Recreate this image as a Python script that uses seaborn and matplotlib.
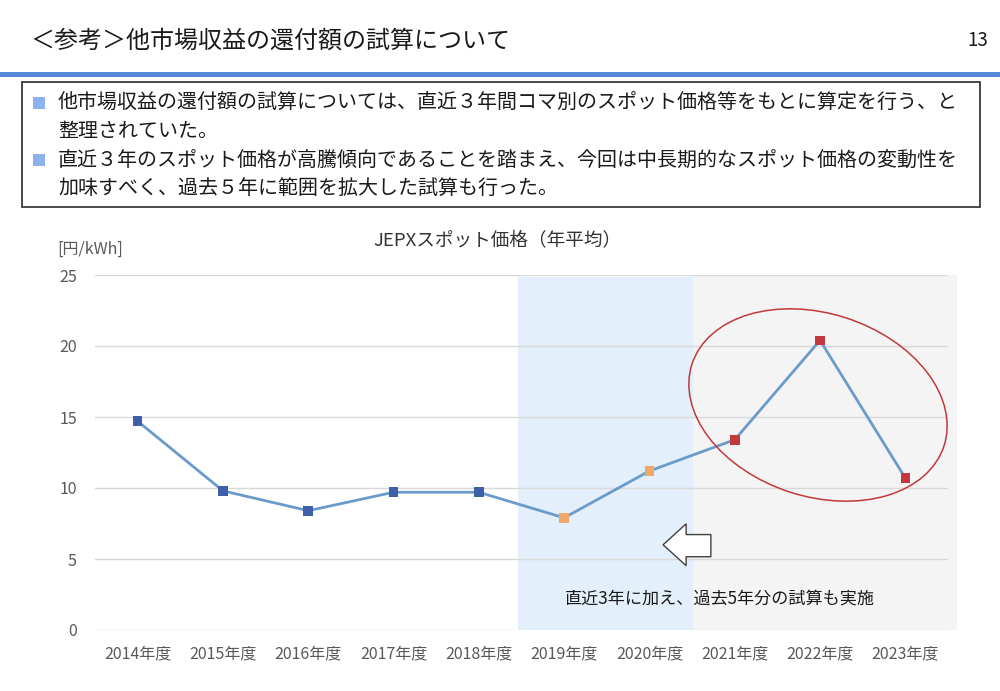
import numpy as np
import pandas as pd
import seaborn as sns
import matplotlib.pyplot as plt
from matplotlib.patches import Ellipse, Polygon, Rectangle

# data
years = ['2014年度', '2015年度', '2016年度', '2017年度', '2018年度',
         '2019年度', '2020年度', '2021年度', '2022年度', '2023年度']
prices = [14.7, 9.8, 8.4, 9.7, 9.7, 7.9, 11.2, 13.4, 20.4, 10.7]
groups = ['old', 'old', 'old', 'old', 'old', 'add', 'add', 'recent', 'recent', 'recent']
yticks = [0, 5, 10, 15, 20, 25]

df = pd.DataFrame({'year': years, 'price': prices, 'group': groups})
df['x'] = np.arange(len(df))

sns.set_theme(style='white')
plt.rcParams['font.family'] = ['Noto Sans CJK JP', 'DejaVu Sans']

fig = plt.figure(figsize=(10, 6.91), dpi=100)
fig.patch.set_facecolor('white')

# ---- slide header ----
fig.text(0.030, 0.942, '＜参考＞他市場収益の還付額の試算について', fontsize=17.3,
         color='#1a1a1a', va='center', ha='left')
fig.text(0.988, 0.942, '13', fontsize=13.5, color='#1a1a1a', va='center', ha='right')
fig.add_artist(Rectangle((0, 1 - 77 / 691), 1, 5 / 691, transform=fig.transFigure,
                         facecolor='#5389d6', edgecolor='none'))
fig.add_artist(Rectangle((0.022, 1 - 207 / 691), 0.958, 125 / 691, transform=fig.transFigure,
                         facecolor='white', edgecolor='#3a3a3a', linewidth=1.3))

bullet_lines = [
    ('他市場収益の還付額の試算については、直近３年間コマ別のスポット価格等をもとに算定を行う、と', True),
    ('整理されていた。', False),
    ('直近３年のスポット価格が高騰傾向であることを踏まえ、今回は中長期的なスポット価格の変動性を', True),
    ('加味すべく、過去５年に範囲を拡大した試算も行った。', False),
]
line_y = [103, 131, 160, 188]
for (txt, bullet), py in zip(bullet_lines, line_y):
    yy = 1 - py / 691
    if bullet:
        fig.add_artist(Rectangle((0.033, yy - 6 / 691), 0.012, 12 / 691,
                                 transform=fig.transFigure,
                                 facecolor='#8cb3ef', edgecolor='none'))
    fig.text(0.058, yy, txt, fontsize=14.4, color='#1a1a1a', va='center', ha='left')

# ---- chart ----
ax = fig.add_axes([0.095, 61 / 691, 0.853, 355 / 691])
ax.set_facecolor('none')

ax.axvspan(4.46, 6.51, ymin=0, ymax=0.995, color='#e3effa', zorder=0, linewidth=0)
ax.axvspan(6.51, 9.6, ymin=0, ymax=1.0, color='#f4f4f4', zorder=0, linewidth=0, clip_on=False)

sns.lineplot(data=df, x='x', y='price', color='#6a9bca', linewidth=2.0, ax=ax,
             zorder=3, legend=False)
sns.scatterplot(data=df, x='x', y='price', hue='group',
                palette={'old': '#3f5fa8', 'add': '#eea86c', 'recent': '#c3393d'},
                marker='s', s=48, edgecolor='none', ax=ax, zorder=4, legend=False)

ax.set_xlim(-0.5, 9.5)
ax.set_ylim(0, 25)
ax.set_yticks(yticks)
ax.set_xticks(df['x'])
ax.set_xticklabels(years)
ax.yaxis.grid(True, color='#d9d9d9', linewidth=1.0, zorder=1)
ax.set_axisbelow(True)
for s in ax.spines.values():
    s.set_visible(False)
ax.tick_params(axis='both', length=0, labelsize=11.5, labelcolor='#595959')
ax.tick_params(axis='x', pad=11)
ax.tick_params(axis='y', pad=13)
ax.set_xlabel('')
ax.set_ylabel('')

fig.text(0.497, 1 - 240 / 691, 'JEPXスポット価格（年平均）', fontsize=13.4,
         color='#333333', ha='center', va='center')
fig.text(0.057, 1 - 249 / 691, '[円/kWh]', fontsize=11.5, color='#595959', va='center')

# red ellipse around recent three years (in pixel units of the figure)
ell = Ellipse((8.18, 6.91 - 4.05), 2.65, 1.83, angle=-18,
              transform=fig.dpi_scale_trans, fill=False,
              edgecolor='#c0393b', linewidth=1.1)
fig.add_artist(ell)

# hollow left arrow
arrow = Polygon([(6.16, 6.0), (6.43, 7.48), (6.43, 6.72), (6.72, 6.72),
                 (6.72, 5.16), (6.43, 5.16), (6.43, 4.53)],
                closed=True, facecolor='white', edgecolor='#404040',
                linewidth=1.0, zorder=5)
ax.add_patch(arrow)

ax.text(6.83, 2.2, '直近3年に加え、過去5年分の試算も実施', fontsize=12.3,
        color='#1a1a1a', ha='center', va='center', zorder=6)

fig.savefig('out.png', dpi=100)
